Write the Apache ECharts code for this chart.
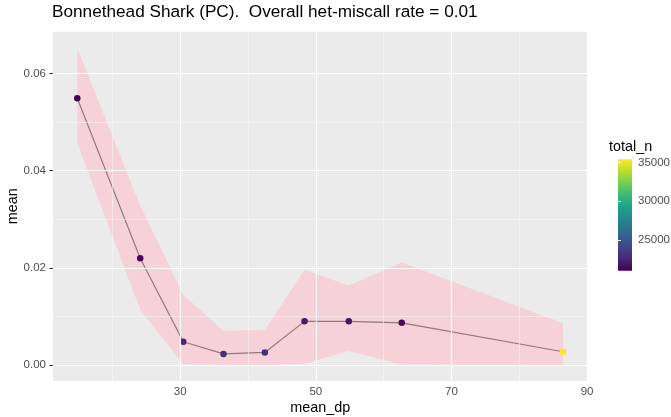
<!DOCTYPE html>
<html><head><meta charset="utf-8">
<script src="https://cdn.jsdelivr.net/npm/echarts@6/dist/echarts.min.js"></script>
<style>html,body{margin:0;padding:0;background:#fff}#c{width:671px;height:417px}</style>
</head><body><div id="c"></div>
<script>
// ---- data ----
const meanDp   = [14.82, 24.10, 30.45, 36.38, 42.48, 48.33, 54.86, 62.67, 86.45];
const meanVal  = [0.0549, 0.0220, 0.0048, 0.0023, 0.0026, 0.0090, 0.0090, 0.0087, 0.00275];
const lowerVal = [0.0457, 0.0114, 0.0002, 0.0000, 0.0000, 0.0003, 0.0029, 0.0001, 0.0000];
const upperVal = [0.0652, 0.0328, 0.0145, 0.0070, 0.0073, 0.0196, 0.0164, 0.0211, 0.0086];
const totalN   = [21100, 21300, 22500, 22900, 22900, 22100, 21900, 21500, 35400];
const xTicks = [30, 50, 70, 90];
const xMinor = [20, 40, 60, 80];
const yTicks = [0, 0.02, 0.04, 0.06];
const yMinor = [0.01, 0.03, 0.05];
const legendTicks = [25000, 30000, 35000];
const nMin = 21044, nMax = 35412;
const viridis = ['#440154','#482878','#3E4A89','#31688E','#26828E','#1F9E89','#35B779','#6DCD59','#B4DE2C','#FDE725'];

const FONT = 'Liberation Sans, Arial, Helvetica, sans-serif';
const chart = echarts.init(document.getElementById('c'), null, {renderer: 'canvas'});

const gridLines = [
  ...xMinor.map(v => ({xAxis: v, lineStyle: {width: 0.6, color: '#F7F7F7', type: 'solid'}})),
  ...xTicks.map(v => ({xAxis: v, lineStyle: {width: 1.1, color: '#FFFFFF', type: 'solid'}})),
  ...yMinor.map(v => ({yAxis: v, lineStyle: {width: 0.6, color: '#F7F7F7', type: 'solid'}})),
  ...yTicks.map(v => ({yAxis: v, lineStyle: {width: 1.1, color: '#FFFFFF', type: 'solid'}}))
];

const gradStops = viridis.map((c, i) => ({offset: 1 - i / (viridis.length - 1), color: c}));

function renderBand(params, api) {
  if (params.dataIndex !== 0) return null;
  const up = [], lo = [];
  for (let i = 0; i < meanDp.length; i++) {
    up.push(api.coord([meanDp[i], upperVal[i]]));
    lo.push(api.coord([meanDp[i], lowerVal[i]]));
  }
  return {
    type: 'polygon',
    shape: {points: up.concat(lo.reverse())},
    style: {fill: 'rgba(255,192,203,0.6)'}
  };
}

chart.setOption({
  animation: false,
  textStyle: {fontFamily: FONT},
  title: [
    {text: 'Bonnethead Shark (PC).  Overall het-miscall rate = 0.01', left: 52, top: 4, padding: 0,
     textStyle: {fontSize: 17.2, fontWeight: 'normal', color: '#000', fontFamily: FONT}},
    {text: 'total_n', left: 609, top: 140, padding: 0,
     textStyle: {fontSize: 14.4, fontWeight: 'normal', color: '#000', fontFamily: FONT}}
  ],
  grid: [
    {left: 53, right: 83.7, top: 31.7, bottom: 36, show: true, backgroundColor: '#EBEBEB', borderWidth: 0,
     containLabel: false, outerBoundsMode: 'none'},
    {left: 618, top: 159.3, width: 14, height: 111.4, show: true, borderWidth: 0,
     containLabel: false, outerBoundsMode: 'none',
     backgroundColor: {type: 'linear', x: 0, y: 0, x2: 0, y2: 1, colorStops: gradStops}}
  ],
  xAxis: [
    {type: 'value', gridIndex: 0, min: 11.24, max: 90.03,
     axisLine: {show: false}, splitLine: {show: false},
     axisTick: {show: true, customValues: xTicks, length: 3.6, lineStyle: {color: '#333', width: 1}},
     axisLabel: {customValues: xTicks, color: '#4D4D4D', fontSize: 11.5, margin: 5, fontFamily: FONT},
     name: 'mean_dp', nameLocation: 'middle', nameGap: 20, nameMoveOverlap: false,
     nameTextStyle: {fontSize: 14.4, color: '#000', fontFamily: FONT}},
    {type: 'value', gridIndex: 1, min: 0, max: 1, show: false}
  ],
  yAxis: [
    {type: 'value', gridIndex: 0, min: -0.00327, max: 0.0686,
     axisLine: {show: false}, splitLine: {show: false},
     axisTick: {show: true, customValues: yTicks, length: 3.6, lineStyle: {color: '#333', width: 1}},
     axisLabel: {customValues: yTicks, color: '#4D4D4D', fontSize: 11.5, margin: 7, fontFamily: FONT,
                 formatter: v => Number(v).toFixed(2)},
     name: 'mean', nameLocation: 'middle', nameGap: 33, nameRotate: 90, nameMoveOverlap: false,
     nameTextStyle: {fontSize: 14.4, color: '#000', fontFamily: FONT}},
    {type: 'value', gridIndex: 1, min: nMin, max: nMax, position: 'right',
     axisLine: {show: false}, splitLine: {show: false},
     axisTick: {show: true, inside: true, customValues: legendTicks, length: 2.8, lineStyle: {color: '#fff', width: 1}},
     axisLabel: {customValues: legendTicks, color: '#4D4D4D', fontSize: 11.5, margin: 6, fontFamily: FONT,
                 formatter: v => String(Math.round(v))}},
    {type: 'value', gridIndex: 1, min: nMin, max: nMax, position: 'left',
     axisLine: {show: false}, splitLine: {show: false},
     axisTick: {show: true, inside: true, customValues: legendTicks, length: 2.8, lineStyle: {color: '#fff', width: 1}},
     axisLabel: {show: false}}
  ],
  visualMap: {type: 'continuous', show: false, seriesIndex: 3, dimension: 2, min: nMin, max: nMax,
              inRange: {color: viridis}},
  series: [
    {type: 'line', xAxisIndex: 0, yAxisIndex: 0, symbol: 'none', z: 1, silent: true,
     lineStyle: {opacity: 0}, data: meanDp.map((x, i) => [x, meanVal[i]]),
     markLine: {silent: true, symbol: ['none', 'none'], label: {show: false}, animation: false, data: gridLines}},
    {type: 'custom', xAxisIndex: 0, yAxisIndex: 0, z: 2, silent: true,
     renderItem: renderBand, encode: {x: 0, y: [1, 2]},
     data: meanDp.map((x, i) => [x, lowerVal[i], upperVal[i]])},
    {type: 'line', xAxisIndex: 0, yAxisIndex: 0, symbol: 'none', z: 3, silent: true,
     lineStyle: {color: 'rgba(0,0,0,0.42)', width: 1.2},
     data: meanDp.map((x, i) => [x, meanVal[i]])},
    {type: 'scatter', xAxisIndex: 0, yAxisIndex: 0, symbolSize: 6.5, z: 4, silent: true,
     itemStyle: {opacity: 1},
     data: meanDp.map((x, i) => [x, meanVal[i], totalN[i]])},
    {type: 'scatter', xAxisIndex: 1, yAxisIndex: 1, data: [], silent: true}
  ]
});
</script>
</body></html>
